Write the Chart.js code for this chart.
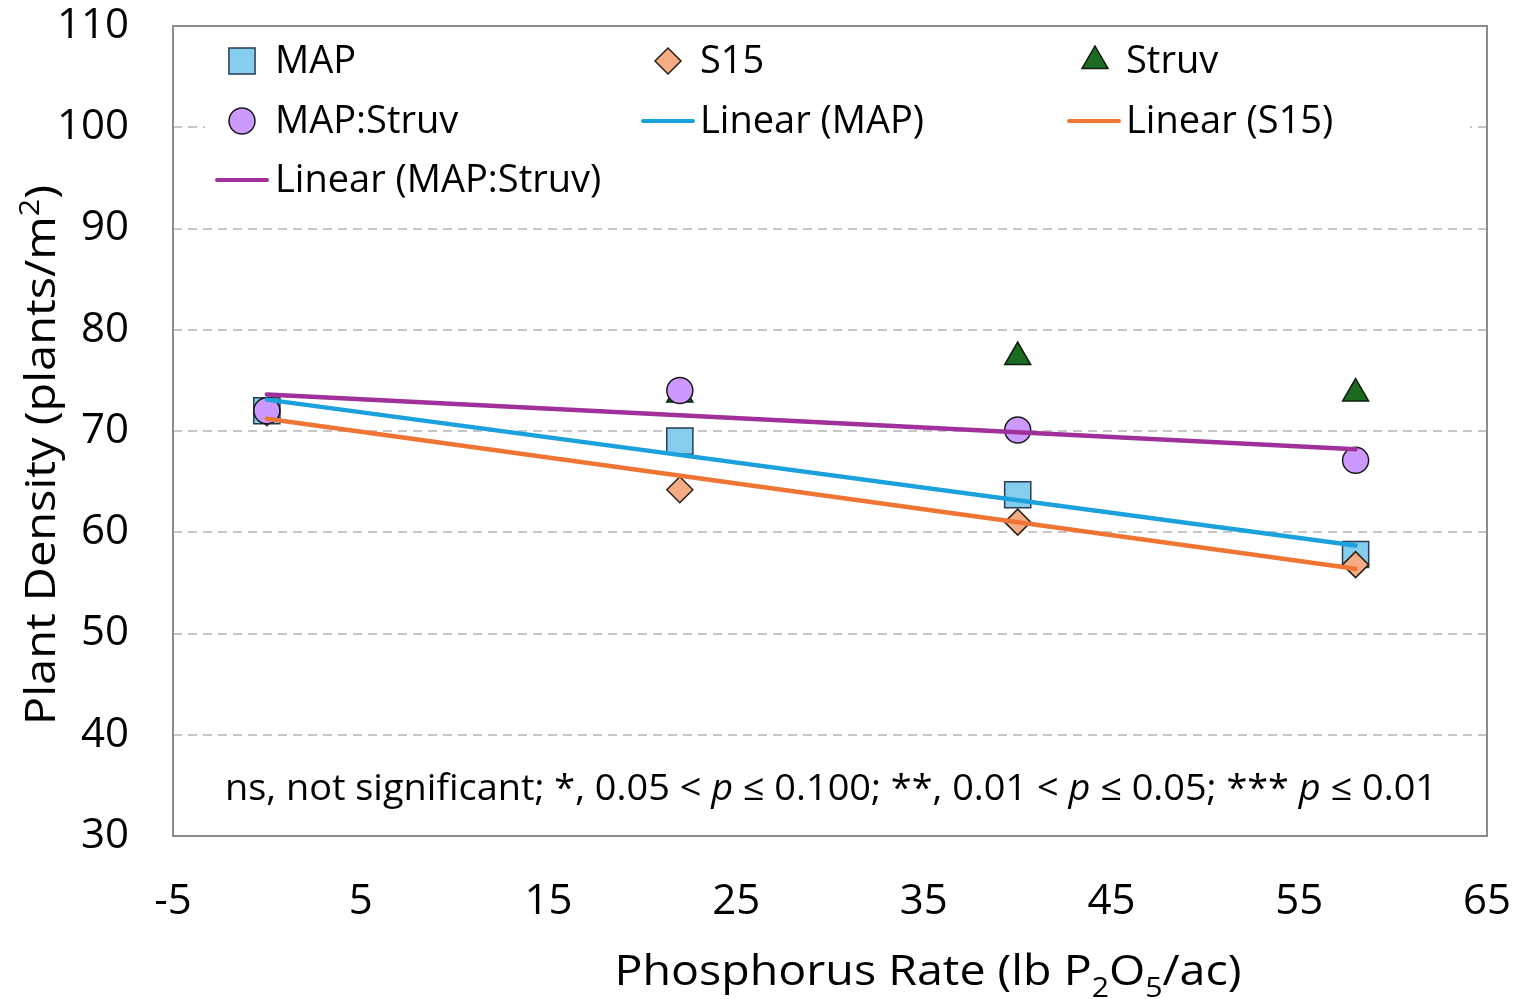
<!DOCTYPE html>
<html lang="en">
<head>
<meta charset="UTF-8">
<title>Plant Density vs Phosphorus Rate</title>
<script src="https://cdn.jsdelivr.net/npm/chart.js@4.4.1/dist/chart.umd.min.js"></script>
<style>
  html, body { margin: 0; padding: 0; background: #fff; }
  #wrap { width: 1514px; height: 999px; }
</style>
</head>
<body>
<div id="wrap"><canvas id="plot" width="1514" height="999"></canvas></div>
<script>
// data
const rates = [0, 22, 40, 58];
const mapVals = [72.0, 69.0, 63.7, 57.8];
const s15Vals = [71.8, 64.2, 61.0, 56.8];
const struvVals = [71.6, 73.6, 77.3, 73.7];
const mapStruvVals = [72.0, 74.0, 70.1, 67.1];

// trendline end points as drawn in the reference
const trendX = [0, 58];
const mapTrend = [73.1, 58.7];
const s15Trend = [71.2, 56.4];
const mapStruvTrend = [73.6, 68.2];

const xTicks = [-5, 5, 15, 25, 35, 45, 55, 65];
const yTicks = [30, 40, 50, 60, 70, 80, 90, 100, 110];

const FONT = "'Open Sans', 'Noto Sans', sans-serif";

function pts(xs, ys) {
    return xs.map((x, i) => ({ x: x, y: ys[i] }));
}

// legend slots: [x of marker, y of row, x of text]
const legendSlots = [
    [242, 61, 275], [668, 61, 700], [1095, 61, 1126],
    [242, 121, 275], [668, 121, 700], [1094, 121, 1126],
    [242, 180, 275]
];

function drawSegs(ctx, segs, cx, baseY, width, size) {
    // measure, then squeeze horizontally so the run fits the target width
    let total = 0;
    const fonts = segs.map(s => {
        const sz = (s.sup || s.sub) ? size * 0.65 : size;
        const f = (s.italic ? 'italic ' : '') + sz + 'px ' + FONT;
        ctx.font = f;
        const w = ctx.measureText(s.t).width;
        total += w;
        return { f: f, w: w };
    });
    ctx.save();
    ctx.translate(cx, baseY);
    ctx.scale(width / total, 1);
    ctx.textAlign = 'left';
    ctx.textBaseline = 'alphabetic';
    ctx.fillStyle = '#000';
    let x = -total / 2;
    segs.forEach((s, i) => {
        ctx.font = fonts[i].f;
        let dy = 0;
        if (s.sup) dy = -size * 0.38;
        if (s.sub) dy = size * 0.28;
        ctx.fillText(s.t, x, dy);
        x += fonts[i].w;
    });
    ctx.restore();
}

function noPad(s) {
    s.paddingTop = 0;
    s.paddingBottom = 0;
    s.paddingLeft = 0;
    s.paddingRight = 0;
}

const decor = {
    id: 'decor',
    beforeDatasetsDraw(chart) {
        const ctx = chart.ctx;
        ctx.save();
        ctx.fillStyle = '#fff';
        ctx.fillRect(205, 32, 1265, 178);
        ctx.restore();
    },
    afterDraw(chart) {
        const ctx = chart.ctx;
        const a = chart.chartArea;
        ctx.save();

        // plot frame
        ctx.strokeStyle = '#8c8c8c';
        ctx.lineWidth = 2;
        ctx.strokeRect(a.left, a.top, a.right - a.left, a.bottom - a.top);

        // legend
        chart.data.datasets.forEach((ds, i) => {
            const slot = legendSlots[i];
            ctx.save();
            if (ds.showLine) {
                ctx.strokeStyle = ds.borderColor;
                ctx.lineWidth = 4;
                ctx.lineCap = 'round';
                ctx.beginPath();
                ctx.moveTo(slot[0] - 25, slot[1]);
                ctx.lineTo(slot[0] + 25, slot[1]);
                ctx.stroke();
            } else {
                ctx.fillStyle = ds.backgroundColor;
                ctx.strokeStyle = ds.borderColor;
                ctx.lineWidth = ds.borderWidth;
                Chart.helpers.drawPoint(ctx, {
                    pointStyle: ds.pointStyle,
                    radius: ds.legendRadius,
                    rotation: 0,
                    borderWidth: ds.borderWidth
                }, slot[0], slot[1]);
            }
            ctx.fillStyle = '#000';
            ctx.font = '38px ' + FONT;
            ctx.textAlign = 'left';
            ctx.textBaseline = 'middle';
            ctx.fillText(ds.label, slot[2], slot[1] + 1);
            ctx.restore();
        });

        // significance note
        drawSegs(ctx, [
            { t: 'ns, not significant; *, 0.05 < ' },
            { t: 'p', italic: true },
            { t: ' \u2264 0.100; **, 0.01 < ' },
            { t: 'p', italic: true },
            { t: ' \u2264 0.05; *** ' },
            { t: 'p', italic: true },
            { t: ' \u2264 0.01' }
        ], 831, 800, 1212, 36);

        // x title
        drawSegs(ctx, [
            { t: 'Phosphorus Rate (lb P' },
            { t: '2', sub: true },
            { t: 'O' },
            { t: '5', sub: true },
            { t: '/ac)' }
        ], 928, 985, 627, 42);

        // y title (rotated)
        ctx.save();
        ctx.translate(40, 455);
        ctx.rotate(-Math.PI / 2);
        drawSegs(ctx, [
            { t: 'Plant Density (plants/m' },
            { t: '2', sup: true },
            { t: ')' }
        ], 0, 15, 540, 42);
        ctx.restore();

        ctx.restore();
    }
};

const ctx = document.getElementById('plot').getContext('2d');
const chart = new Chart(ctx, {
    type: 'scatter',
    data: {
        datasets: [{
            label: 'MAP',
            data: pts(rates, mapVals),
            pointStyle: 'rect',
            pointRadius: 18.5,
            legendRadius: 18.5,
            backgroundColor: '#86CCEC',
            borderColor: '#2a3d52',
            borderWidth: 1.5,
            order: 3
        }, {
            label: 'S15',
            data: pts(rates, s15Vals),
            pointStyle: 'rectRot',
            pointRadius: 13,
            legendRadius: 13,
            backgroundColor: '#F3AC84',
            borderColor: '#2b2018',
            borderWidth: 1.5,
            order: 2
        }, {
            label: 'Struv',
            data: pts(rates, struvVals),
            pointStyle: 'triangle',
            pointRadius: 15,
            legendRadius: 15,
            backgroundColor: '#1C6B20',
            borderColor: '#0d1f0d',
            borderWidth: 1.5,
            order: 4
        }, {
            label: 'MAP:Struv',
            data: pts(rates, mapStruvVals),
            pointStyle: 'circle',
            pointRadius: 13,
            legendRadius: 13,
            backgroundColor: '#CC99FF',
            borderColor: '#1a1a1a',
            borderWidth: 1.5,
            order: 1
        }, {
            label: 'Linear (MAP)',
            data: pts(trendX, mapTrend),
            showLine: true,
            pointRadius: 0,
            borderColor: '#1BA1DC',
            borderWidth: 4.5,
            borderCapStyle: 'round',
            order: 0
        }, {
            label: 'Linear (S15)',
            data: pts(trendX, s15Trend),
            showLine: true,
            pointRadius: 0,
            borderColor: '#EF7535',
            borderWidth: 4.5,
            borderCapStyle: 'round',
            order: 0
        }, {
            label: 'Linear (MAP:Struv)',
            data: pts(trendX, mapStruvTrend),
            showLine: true,
            pointRadius: 0,
            borderColor: '#A0309A',
            borderWidth: 4.5,
            borderCapStyle: 'round',
            order: 0
        }]
    },
    options: {
        responsive: false,
        animation: false,
        devicePixelRatio: 1,
        layout: { padding: { top: 26, right: 27, left: 0, bottom: 0 } },
        plugins: {
            legend: { display: false },
            tooltip: { enabled: false }
        },
        scales: {
            x: {
                type: 'linear',
                min: -5,
                max: 65,
                afterBuildTicks: s => { s.ticks = xTicks.map(v => ({ value: v })); },
                afterFit: s => { s.height = 163; noPad(s); },
                grid: { display: false, drawTicks: false },
                border: { display: false },
                ticks: {
                    padding: 41,
                    color: '#000',
                    font: { family: FONT, size: 42 },
                    maxRotation: 0
                }
            },
            y: {
                type: 'linear',
                min: 30,
                max: 110,
                afterBuildTicks: s => { s.ticks = yTicks.map(v => ({ value: v })); },
                afterFit: s => { s.width = 173; noPad(s); },
                grid: {
                    drawTicks: false,
                    lineWidth: 2,
                    color: c => (c.tick && (c.tick.value === 30 || c.tick.value === 110)) ? 'rgba(0,0,0,0)' : '#c6c6c6'
                },
                border: { display: false, dash: [9, 6] },
                ticks: {
                    padding: 44,
                    color: '#000',
                    font: { family: FONT, size: 42 }
                }
            }
        }
    },
    plugins: [decor]
});
</script>
</body>
</html>
